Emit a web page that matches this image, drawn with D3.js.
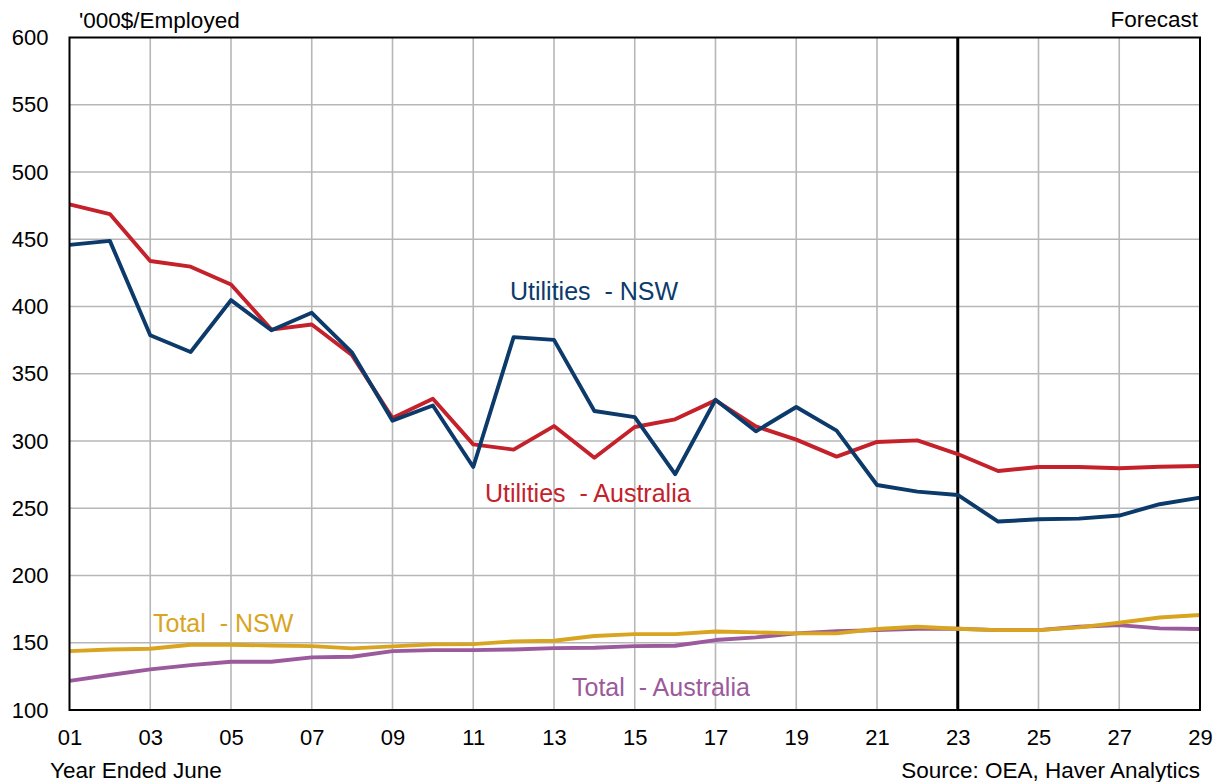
<!DOCTYPE html>
<html><head><meta charset="utf-8">
<script src="https://cdn.jsdelivr.net/npm/d3@7"></script>
<style>
html,body{margin:0;padding:0;background:#fff;}
text{font-family:"Liberation Sans",Arial,sans-serif;}
</style></head>
<body>
<svg id="chart" width="1221" height="782"></svg>
<script>
const years = [1,2,3,4,5,6,7,8,9,10,11,12,13,14,15,16,17,18,19,20,21,22,23,24,25,26,27,28,29];
const utilitiesNSW = [445.8,448.8,378.6,366.2,404.7,382.3,395.3,365.7,315.1,326.4,280.7,377.2,375.2,322.3,317.8,275.3,330.7,307.2,325.3,307.7,267.3,262.4,259.9,240.1,241.8,242.3,244.6,253,257.9];
const utilitiesAUS = [476,468.7,433.8,429.6,416.4,382.8,386.6,363.7,317.1,331.4,297.5,293.6,311.1,287.6,310.4,316.1,330.2,310.9,301,288.4,299.3,300.5,290.3,277.7,280.7,280.7,279.7,280.9,281.4];
const totalNSW = [143.8,145,145.5,148.5,148.5,148,147.5,145.8,147.3,148.8,149,151,151.5,155,156.4,156.4,158.4,157.7,157,157,160.2,161.9,160.4,159.4,159.4,161.4,164.9,168.8,170.6];
const totalAUS = [121.7,126,130.2,133.4,135.9,135.9,139.1,139.6,143.8,144.5,144.5,145,146,146.3,147.5,147.8,152,154,157,158.5,159.4,160.4,160.4,159.4,159.4,161.9,163.1,160.7,160.2];
const xTicks = [1,3,5,7,9,11,13,15,17,19,21,23,25,27,29];
const yTicks = [100,150,200,250,300,350,400,450,500,550,600];
const forecastYear = 23;

const series = [
  {name:"Utilities  - NSW", values: utilitiesNSW, color:"#0c3a6b", lx:510, ly:300},
  {name:"Utilities  - Australia", values: utilitiesAUS, color:"#c4212b", lx:485, ly:502},
  {name:"Total  - NSW", values: totalNSW, color:"#d9a521", lx:153, ly:632},
  {name:"Total  - Australia", values: totalAUS, color:"#9b5a9b", lx:572, ly:696}
];

const svg = d3.select("#chart");
const L = 69.5, R = 1200, T = 37.5, B = 710;
const x = d3.scaleLinear().domain([1,29]).range([L,R]);
const y = d3.scaleLinear().domain([100,600]).range([B,T]);

// grid
const g = svg.append("g");
g.selectAll("line.v").data(xTicks.filter(d=>d>1&&d<29)).enter().append("line")
  .attr("x1",d=>x(d)).attr("x2",d=>x(d)).attr("y1",T).attr("y2",B)
  .attr("stroke","#b7b7b7").attr("stroke-width",1.6);
g.selectAll("line.h").data(yTicks.filter(d=>d>100&&d<600)).enter().append("line")
  .attr("x1",L).attr("x2",R).attr("y1",d=>y(d)).attr("y2",d=>y(d))
  .attr("stroke","#b7b7b7").attr("stroke-width",1.6);

// forecast line
svg.append("line").attr("x1",x(forecastYear)).attr("x2",x(forecastYear)).attr("y1",T).attr("y2",B)
  .attr("stroke","#000").attr("stroke-width",3);

// lines
const line = d3.line().x((d,i)=>x(years[i])).y(d=>y(d));
series.slice().reverse().forEach(s=>{
  svg.append("path").datum(s.values).attr("d",line).attr("fill","none")
    .attr("stroke",s.color).attr("stroke-width",3.9).attr("stroke-linejoin","round");
});

// frame
svg.append("rect").attr("x",L).attr("y",T).attr("width",R-L).attr("height",B-T)
  .attr("fill","none").attr("stroke","#000").attr("stroke-width",2);

// axes
const xAxis = d3.axisBottom(x).tickValues(xTicks).tickSize(0).tickPadding(19)
  .tickFormat(d=>String(d).padStart(2,"0"));
const xa = svg.append("g").attr("transform",`translate(0,${B})`).call(xAxis);
xa.select(".domain").remove();
xa.selectAll("text").attr("font-size",22).attr("fill","#000").style("font-family","'Liberation Sans',Arial,sans-serif");

const yAxis = d3.axisLeft(y).tickValues(yTicks).tickSize(0).tickPadding(21);
const ya = svg.append("g").attr("transform",`translate(${L},0)`).call(yAxis);
ya.select(".domain").remove();
ya.selectAll("text").attr("font-size",22).attr("fill","#000").style("font-family","'Liberation Sans',Arial,sans-serif");

// texts
const txt = (t,xx,yy,anchor,size,color)=>svg.append("text").text(t).attr("x",xx).attr("y",yy)
  .attr("text-anchor",anchor).attr("font-size",size).attr("fill",color||"#000");
txt("'000$/Employed",79,28,"start",22.5);
txt("Forecast",1198,27,"end",22.5);
txt("Year Ended June",50,778,"start",22.5);
txt("Source: OEA, Haver Analytics",1200,778,"end",22.5);

series.forEach(s=>{
  txt(s.name,s.lx,s.ly,"start",25,s.color).style("white-space","pre");
});
</script>
</body></html>
